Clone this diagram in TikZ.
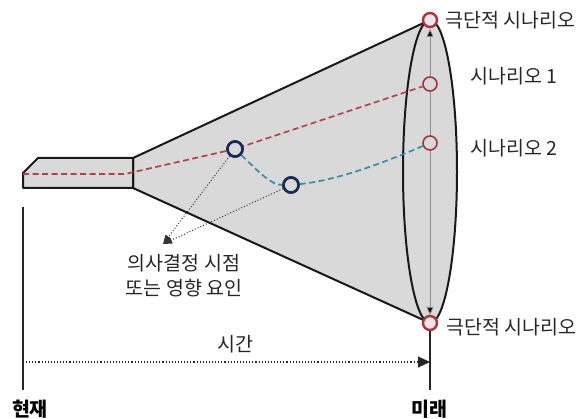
\documentclass[tikz,border=0pt]{standalone}
\usepackage{fontspec}
\setmainfont{Noto Sans CJK KR}
\usetikzlibrary{arrows.meta}
\definecolor{conegray}{HTML}{D9D9D9}
\definecolor{scred}{HTML}{A8343F}
\definecolor{pathred}{HTML}{B5404C}
\definecolor{pathblue}{HTML}{3A8CA8}
\definecolor{dpblue}{HTML}{1B2A55}
\tikzset{
  outline/.style={draw=black!90, line width=2pt, line join=round, fill=conegray},
  scen/.style={circle, draw=scred, line width=1.6pt, fill=conegray, minimum size=14pt, inner sep=0pt},
  extreme/.style={circle, draw=scred, line width=2.4pt, fill=conegray!70!scred!30, minimum size=14pt, inner sep=0pt},
  decision/.style={circle, draw=dpblue, line width=2.6pt, fill=conegray, minimum size=15pt, inner sep=0pt},
  lbl/.style={font=\fontsize{19.5}{23}\selectfont, text=black!85, inner sep=0pt},
  big/.style={font=\fontsize{19.5}{23}\selectfont\bfseries, inner sep=0pt},
  redpath/.style={draw=pathred, line width=1.7pt, dash pattern=on 6pt off 3.5pt},
  bluepath/.style={draw=pathblue, line width=1.7pt, dash pattern=on 6pt off 3.5pt},
  pointer/.style={draw=black!80, line width=1pt, dotted, -{Triangle[length=9pt,width=7pt]}},
}
\begin{document}
\begin{tikzpicture}[x=1pt,y=-1pt]
\useasboundingbox (0,0) rectangle (582,419);
% cone and stem
\path[outline] (133,158) -- (430,20) -- (430,323) -- (133,188) -- cycle;
\path[outline] (23,173) -- (38,158) -- (133,158) -- (133,188) -- (23,188) -- cycle;
\path[outline] (430,171.5) ellipse [x radius=27, y radius=151.5];
% vertical double arrow inside ellipse
\coordinate (vtop) at (430,29);
\coordinate (vbot) at (430,315);
\draw[draw=black!45, line width=0.8pt, {Triangle[length=8pt,width=7pt,fill=black]}-{Triangle[length=8pt,width=7pt,fill=black]}] (vbot) -- (vtop);
% paths
\coordinate (start) at (23,174);
\coordinate (bend) at (125,174);
\node[decision] (dp1) at (235,149) {};
\node[decision] (dp2) at (291,185) {};
\node[scen] (s1) at (430,84) {};
\node[scen] (s2) at (430,143) {};
\draw[redpath] (start) -- (bend) -- (dp1.center) -- (s1);
\draw[bluepath] (dp1) .. controls (255,168) and (270,185) .. (dp2);
\draw[bluepath] (dp2) .. controls (340,180) and (390,160) .. (s2);
\node[decision] at (dp1) {};
\node[decision] at (dp2) {};
\node[extreme] (ext1) at (430,20) {};
\node[extreme] (ext2) at (430,323) {};
% decision pointers
\coordinate (tip) at (163,244);
\draw[pointer] (dp1) -- (tip);
\draw[pointer] (dp2) -- (tip);
\node[lbl, align=center] (dlabel) at (184,276) {의사결정 시점\\[2pt]또는 영향 요인};
% scenario labels
\node[lbl, anchor=west] (l1) at (445,20) {극단적 시나리오};
\node[lbl, anchor=west] (l2) at (470,76) {시나리오 1};
\node[lbl, anchor=west] (l3) at (470,148) {시나리오 2};
\node[lbl, anchor=west] (l4) at (446,327) {극단적 시나리오};
% time axis
\coordinate (nowtop) at (23,207);
\coordinate (nowbot) at (23,390);
\coordinate (futbot) at (430,390);
\coordinate (tstart) at (26,362);
\coordinate (tend) at (430,362);
\draw[black!85, line width=1.1pt] (nowtop) -- (nowbot);
\draw[black!85, line width=1.1pt] (ext2) -- (futbot);
\draw[black!85, line width=1.1pt, dotted, -{Triangle[length=12pt,width=11pt]}] (tstart) -- (tend);
\node[lbl] (time) at (235,344) {시간};
\node[big] (now) at (30,409) {현재};
\node[big] (future) at (429,409) {미래};
\end{tikzpicture}
\end{document}
